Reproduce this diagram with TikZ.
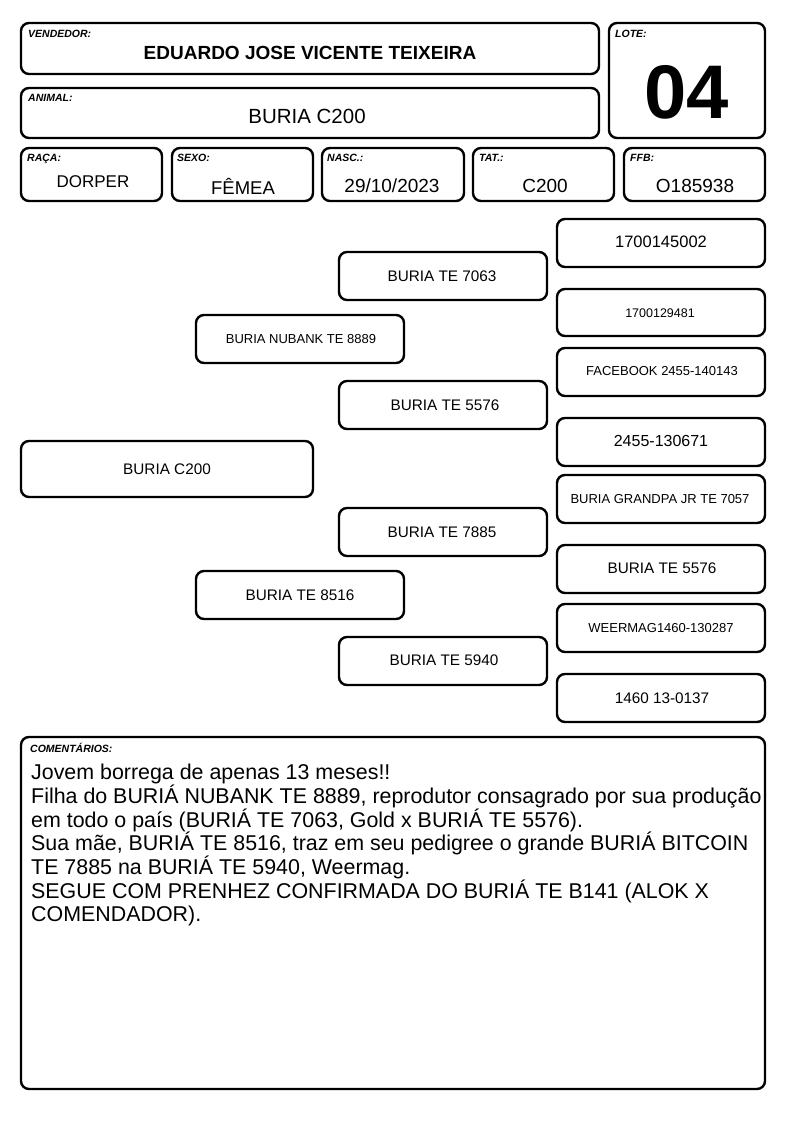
\documentclass[tikz,border=0pt]{standalone}
\usepackage{fontspec}
\setmainfont{Liberation Sans}
\begin{document}
\begin{tikzpicture}[x=1pt,y=-1pt,
  box/.style={draw=black,line width=2.4pt,rounded corners=8pt},
  lab/.style={font=\fontsize{10.5}{11}\selectfont\bfseries\itshape,anchor=north west,inner sep=0pt},
  val/.style={font=\fontsize{19}{21}\selectfont,inner sep=0pt},
  ped/.style={font=\fontsize{15.3}{18}\selectfont,inner sep=0pt},
  peds/.style={font=\fontsize{13}{15}\selectfont,inner sep=0pt}]
\useasboundingbox (0,0) rectangle (794,1123);
% header
\draw[box] (21,23) rectangle (599,74);
\node[lab] (lv) at (28,30) {VENDEDOR:};
\node[font=\fontsize{19}{21}\selectfont\bfseries,inner sep=0pt] (vend) at (310,53) {EDUARDO JOSE VICENTE TEIXEIRA};
\draw[box] (609,23) rectangle (765,138);
\node[lab] (ll) at (615,30) {LOTE:};
\node[font=\fontsize{76}{80}\selectfont\bfseries,inner sep=0pt] (lote) at (687,92) {04};
\draw[box] (21,88) rectangle (599,138);
\node[lab] (la) at (28,94) {ANIMAL:};
\node[font=\fontsize{20.5}{22}\selectfont,inner sep=0pt] (anim) at (307,116) {BURIA C200};
% row
\draw[box] (21,148) rectangle (162,201);
\node[lab] (lr) at (27,154) {RAÇA:};
\node[font=\fontsize{17}{20}\selectfont,inner sep=0pt] (raca) at (93,182) {DORPER};
\draw[box] (172,148) rectangle (313,201);
\node[lab] (ls) at (177,154) {SEXO:};
\node[font=\fontsize{18.5}{20}\selectfont,inner sep=0pt] (sexo) at (243,186) {FÊMEA};
\draw[box] (322,148) rectangle (464,201);
\node[lab] (ln) at (327,154) {NASC.:};
\node[val] (nasc) at (392,186) {29/10/2023};
\draw[box] (473,148) rectangle (614,201);
\node[lab] (lt) at (479,154) {TAT.:};
\node[val] (tat) at (545,186) {C200};
\draw[box] (624,148) rectangle (765,201);
\node[lab] (lf) at (630,154) {FFB:};
\node[val] (ffb) at (695,186) {O185938};
% pedigree
\draw[box] (21,441) rectangle (313,497);
\node[ped] (p0) at (167,469) {BURIA C200};
\draw[box] (196,315) rectangle (404,363);
\node[peds] (p1) at (301,339) {BURIA NUBANK TE 8889};
\draw[box] (196,571) rectangle (404,619);
\node[ped] (p2) at (300,595) {BURIA TE 8516};
\draw[box] (339,252) rectangle (547,300);
\node[ped] (p3) at (442,276) {BURIA TE 7063};
\draw[box] (339,381) rectangle (547,429);
\node[ped] (p4) at (445,405) {BURIA TE 5576};
\draw[box] (339,508) rectangle (547,556);
\node[ped] (p5) at (442,532) {BURIA TE 7885};
\draw[box] (339,637) rectangle (547,685);
\node[ped] (p6) at (444,660) {BURIA TE 5940};
\draw[box] (557,219) rectangle (765,267);
\node[font=\fontsize{16.5}{18}\selectfont,inner sep=0pt] (g1) at (661,242) {1700145002};
\draw[box] (557,289) rectangle (765,336);
\node[font=\fontsize{12.5}{14}\selectfont,inner sep=0pt] (g2) at (660,313) {1700129481};
\draw[box] (557,348) rectangle (765,396);
\node[peds] (g3) at (662,371) {FACEBOOK 2455-140143};
\draw[box] (557,418) rectangle (765,466);
\node[font=\fontsize{16}{18}\selectfont,inner sep=0pt] (g4) at (661,441) {2455-130671};
\draw[box] (557,475) rectangle (765,523);
\node[peds] (g5) at (660,499) {BURIA GRANDPA JR TE 7057};
\draw[box] (557,545) rectangle (765,593);
\node[ped] (g6) at (662,568) {BURIA TE 5576};
\draw[box] (557,604) rectangle (765,652);
\node[peds] (g7) at (661,628) {WEERMAG1460-130287};
\draw[box] (557,674) rectangle (765,722);
\node[ped] (g8) at (662,698) {1460 13-0137};
% comments
\draw[box] (21,737) rectangle (765,1089);
\node[lab] (lc) at (30,743) {COMENTÁRIOS:};
\node[anchor=north west,inner sep=0pt,align=left,font=\fontsize{21.4}{23.7}\selectfont] (com) at (31,764) {Jovem borrega de apenas 13 meses!!\\
Filha do BURIÁ NUBANK TE 8889, reprodutor consagrado por sua produção\\
em todo o país (BURIÁ TE 7063, Gold x BURIÁ TE 5576).\\
Sua mãe, BURIÁ TE 8516, traz em seu pedigree o grande BURIÁ BITCOIN\\
TE 7885 na BURIÁ TE 5940, Weermag.\\
SEGUE COM PRENHEZ CONFIRMADA DO BURIÁ TE B141 (ALOK X\\
COMENDADOR).};
\end{tikzpicture}
\end{document}
